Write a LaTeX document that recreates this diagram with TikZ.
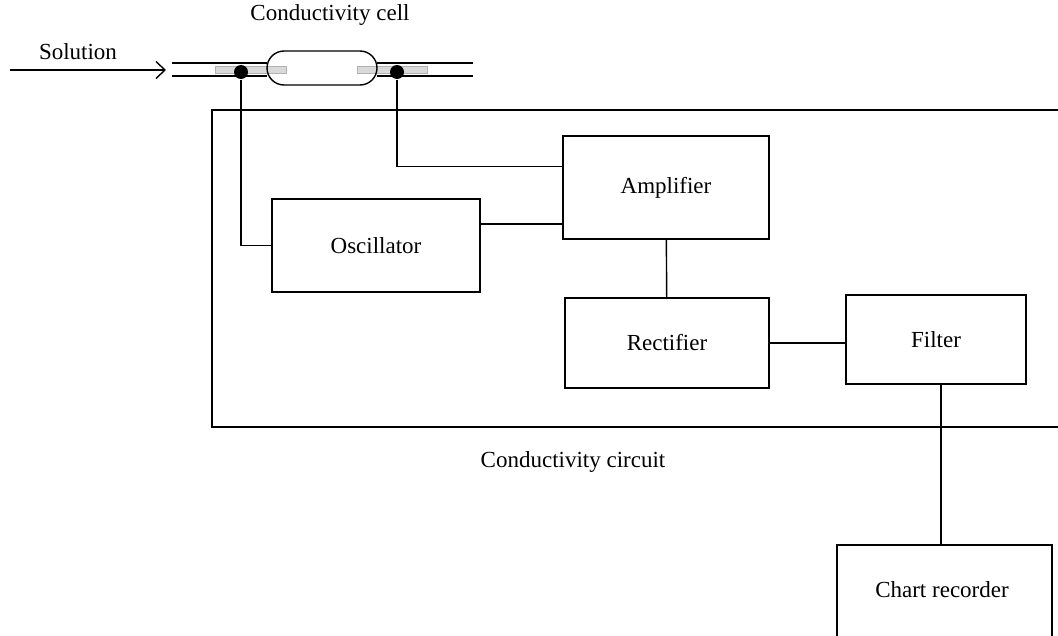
\documentclass[tikz,border=0pt]{standalone}
\usepackage{fontspec}
\setmainfont{Liberation Serif}
\usetikzlibrary{arrows.meta,calc}
\tikzset{
  block/.style={draw,inner sep=0pt},
  electrode/.style={fill=gray!30,draw=gray!60,line width=0.6pt},
  junction/.style={circle,fill=black,inner sep=0pt,minimum size=14pt},
}
\begin{document}
\begin{tikzpicture}[x=1pt,y=-1pt,line width=1.4pt,font=\fontsize{23}{27}\selectfont]
\useasboundingbox (0,0) rectangle (1058,635);
\clip (0,0) rectangle (1058,635);
% cell and pipe
\draw[electrode] (215,66) rectangle (286,73);
\draw[electrode] (357,66) rectangle (427,73);
\draw (172,63) -- (267,63) (172,76) -- (267,76);
\draw (377,63) -- (473,63) (377,76) -- (473,76);
\node[draw,rounded corners=17pt,minimum width=110pt,minimum height=34pt] (cell) at (322,68) {};
\node[junction] (dotL) at (241,72) {};
\node[junction] (dotR) at (397,72) {};
\node at (330,15) {Conductivity cell};
\node (sol) at (78,52) {Solution};
\coordinate (solA) at (10,70);
\coordinate (solB) at (166,70);
\draw[-{Straight Barb[length=9pt,width=17pt]}] (solA) -- (solB);
% conductivity circuit frame
\draw (1058,110) -- (212,110) -- (212,427) -- (1058,427);
\node (circ) at (573,462) {Conductivity circuit};
% blocks
\node[block,minimum width=208pt,minimum height=93pt] (osc) at (376,245.5) {Oscillator};
\node[block,minimum width=206pt,minimum height=103pt] (amp) at (666,187.5) {Amplifier};
\node[block,minimum width=204pt,minimum height=90pt] (rect) at (667,343) {Rectifier};
\node[block,minimum width=180pt,minimum height=89pt] (filt) at (936,339.5) {Filter};
\draw (837,640) -- (837,545) -- (1052,545) -- (1052,640);
\coordinate (chtop) at (941,545);
\node (chart) at (942,590) {Chart recorder};
% wiring
\coordinate (ampA) at ($(amp.north west)!0.3!(amp.south west)$);
\coordinate (ampB) at ($(amp.north west)!0.85!(amp.south west)$);
\draw (dotL) |- (osc.west);
\draw (dotR) |- (ampA);
\draw (ampB -| osc.east) -- (ampB);
\draw (amp) -- (rect);
\draw (rect.east) -- (rect.east -| filt.west);
\draw (filt.south -| chtop) -- (chtop);
\end{tikzpicture}
\end{document}
